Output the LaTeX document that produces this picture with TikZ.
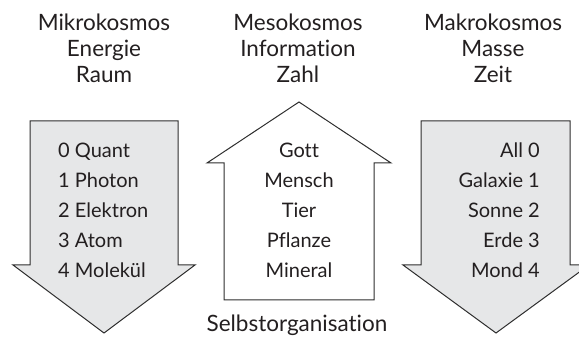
\documentclass[tikz,border=0pt]{standalone}
\usepackage{fontspec}
\setmainfont{Lato}[Ligatures=NoCommon]
\definecolor{arrowfill}{HTML}{E6E7E8}
\definecolor{linecol}{HTML}{2E2E2E}
\definecolor{textcol}{HTML}{231F20}
\tikzset{
  head/.style={anchor=base, inner sep=0pt, text=textcol, font=\fontsize{22.5}{26}\selectfont},
  item/.style={inner sep=0pt, text=textcol, font=\fontsize{20}{24}\selectfont},
  block/.style={draw=linecol, line width=1pt, line join=miter},
}
\begin{document}
\begin{tikzpicture}[x=1pt,y=-1pt]
\useasboundingbox (0,0) rectangle (579,344);
% the three blocks
\draw[block, fill=arrowfill] (30,121) -- (178,121) -- (178,265) -- (195,265) -- (104,333) -- (13,265) -- (30,265) -- cycle;
\draw[block, fill=white] (224,300) -- (224,163) -- (207,163) -- (299,102) -- (391,163) -- (374,163) -- (374,300) -- cycle;
\draw[block, fill=arrowfill] (421,121) -- (570,121) -- (570,265) -- (589,265) -- (496,333) -- (403,265) -- (421,265) -- cycle;
% headings
\node[head] (mikro) at (104,31) {Mikrokosmos};
\node[head] (energie) at (104,57) {Energie};
\node[head] (raum) at (104,83) {Raum};
\node[head] (meso) at (298,31) {Mesokosmos};
\node[head] (information) at (298,57) {Information};
\node[head] (zahl) at (298,83) {Zahl};
\node[head] (makro) at (493,31) {Makrokosmos};
\node[head] (masse) at (493,57) {Masse};
\node[head] (zeit) at (493,83) {Zeit};
% the lists
\foreach \name [count=\i from 0] in {0 Quant, 1 Photon, 2 Elektron, 3 Atom, 4 Molekül}
  \node[item, anchor=base west] (mikro-\i) at (58,158+30*\i) {\name};
\foreach \name [count=\i from 0] in {Gott, Mensch, Tier, Pflanze, Mineral}
  \node[item, anchor=base] (meso-\i) at (299,158+30*\i) {\name};
\foreach \name [count=\i from 0] in {All 0, Galaxie 1, Sonne 2, Erde 3, Mond 4}
  \node[item, anchor=base east] (makro-\i) at (540,158+30*\i) {\name};
\node[head] (selbst) at (297,332) {Selbstorganisation};
\end{tikzpicture}
\end{document}
